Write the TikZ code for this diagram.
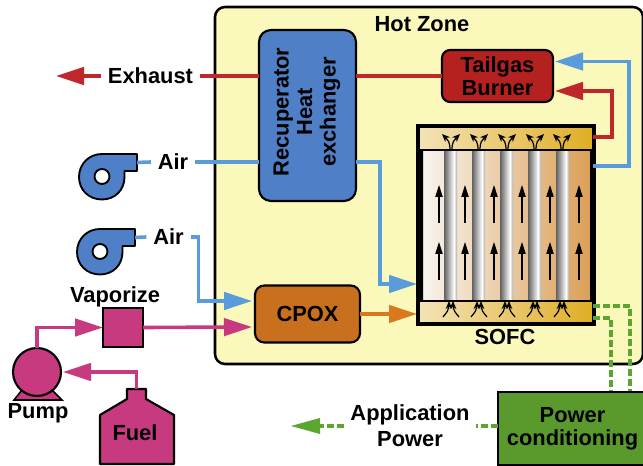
\documentclass[tikz,border=0pt]{standalone}
\usepackage{fontspec}
\setmainfont{Liberation Sans}
\usetikzlibrary{arrows.meta,calc}
\definecolor{zonefill}{HTML}{FBF8BC}
\definecolor{blueflow}{HTML}{5A9BDC}
\definecolor{bluebox}{HTML}{4F7FC6}
\definecolor{redflow}{HTML}{C0272D}
\definecolor{redbox}{HTML}{B5211F}
\definecolor{magflow}{HTML}{C83A80}
\definecolor{cpoxfill}{HTML}{C8701E}
\definecolor{orangeflow}{HTML}{D9791F}
\definecolor{greenflow}{HTML}{5CA52E}
\definecolor{greenbox}{HTML}{5A9A2C}
\definecolor{cellleft}{HTML}{F8F4EE}
\definecolor{cellright}{HTML}{DBA057}
\definecolor{bandleft}{HTML}{F3E2B6}
\definecolor{bandright}{HTML}{E0AE26}
\tikzset{
  x=0.75pt,y=-0.75pt,
  labeltext/.style={font=\fontsize{16.4}{17.5}\selectfont\bfseries,inner xsep=5pt,inner ysep=0pt,align=center,text=black},
  unit/.style={draw=black,line width=1.6pt,inner sep=0pt,outer sep=0pt,font=\fontsize{16.4}{17}\selectfont\bfseries,align=center},
  flow/.style={line width=2.7pt,draw=#1},
  bigtip/.style={-{Triangle[length=21pt,width=13pt,fill=#1]}},
  dashflow/.style={line width=2.7pt,draw=greenflow,dash pattern=on 5pt off 2.5pt},
  smallup/.style={-{Stealth[length=6pt,width=5pt]},line width=0.9pt,draw=black},
  cellup/.style={-{Triangle[length=9pt,width=5.5pt]},line width=0.8pt,draw=black}
}
\begin{document}
\begin{tikzpicture}
\useasboundingbox (0,0) rectangle (643,466);
\fill[white] (0,0) rectangle (643,466);
% hot zone
\draw[black,line width=1.9pt,fill=zonefill,rounded corners=7.5pt] (215,7) rectangle (643,364);
\node[labeltext] (hot) at (422,24) {Hot Zone};
% units
\node[unit,fill=bluebox,rounded corners=9pt,minimum width=97*0.75pt,minimum height=171*0.75pt] (rec) at (307.5,115.5) {};
\node[font=\fontsize{16.4}{17.6}\selectfont\bfseries,align=center,rotate=90,inner sep=0pt] (rectext) at (307,112) {Recuperator\\Heat\\exchanger};
\node[unit,fill=redbox,rounded corners=6pt,minimum width=111*0.75pt,minimum height=52*0.75pt] (tail) at (497.5,76) {Tailgas\\Burner};
\node[unit,fill=cpoxfill,rounded corners=7pt,minimum width=105*0.75pt,minimum height=57*0.75pt] (cpox) at (307.5,314) {CPOX};
\node[unit,fill=magflow,minimum width=40*0.75pt,minimum height=39*0.75pt] (vap) at (123,327.5) {};
\node[labeltext] (vaptext) at (115,297) {Vaporize};
\draw[black,line width=1.2pt,fill=magflow] (22,390) -- (14,400) -- (62,400) -- (52,390) -- cycle;
\node[unit,fill=magflow,circle,minimum size=48*0.75pt] (pump) at (37,372) {};
\node[labeltext] (pumptext) at (38,413) {Pump};
\node[unit,fill=greenbox,minimum width=149*0.75pt,minimum height=73*0.75pt] (pc) at (572.5,428.5) {Power\\conditioning};
% fuel tank
\coordinate (fuelneck) at (136.5,389);
\draw[black,line width=1.6pt,fill=magflow,line join=round] (127,389) -- (146,389) -- (146,399) -- (174,415) -- (174,464) -- (100,464) -- (100,415) -- (127,399) -- cycle;
\node[labeltext] (fueltext) at (135,433) {Fuel};
% blowers
\foreach \dx/\dy/\nm in {0/0/blowa,-2/75/blowb}{
  \begin{scope}[shift={(\dx,\dy)}]
    \draw[black,line width=1.4pt,fill=bluebox,line join=round]
      (137,154) -- (102,154) .. controls (89,154) and (79,164) .. (79,177)
      .. controls (79,190) and (89,199.5) .. (102,199.5)
      .. controls (115,199.5) and (124.5,190) .. (124.5,177) -- (124.5,171) -- (137,171) -- cycle;
    \draw[black,line width=1.4pt,fill=white] (102,176.5) circle[radius=7.5];
    \coordinate (\nm) at (137,162.5);
  \end{scope}
}
% SOFC stack
\node[draw=black,line width=3pt,minimum width=174*0.75pt,minimum height=196*0.75pt,inner sep=0pt,outer sep=0pt] (sofc) at (506,225) {};
\shade[left color=cellleft,right color=cellright] (423,150) rectangle (590,301);
\foreach \a in {444,472,500,528,556}{
  \shade[left color=black!62,right color=white] (\a,150) rectangle ({\a+10},301);
  \shade[left color=white,right color=black!35] ({\a+10},150) rectangle ({\a+13},301);
}
\shade[left color=bandleft,right color=bandright] (420,128) rectangle (592,150);
\shade[left color=bandleft,right color=bandright] (420,301) rectangle (592,322);
\draw[black,line width=0.8pt] (420,150) -- (592,150) (420,301) -- (592,301);
\fill[black] (418,150) rectangle (423,301) (590,150) rectangle (594,301);
\draw[black,line width=2.6pt] (418,126) rectangle (594,324);
\foreach \c in {439,465,494,522,550,579}{
  \draw[cellup] (\c,223) -- (\c,185);
  \draw[cellup] (\c,280) -- (\c,242);
}
\foreach \c in {451,479,507,535,562}{
  \draw[smallup] (\c-1,150) .. controls (\c-1,142) and (\c-3,140) .. (\c-9,134);
  \draw[smallup] (\c+1,150) .. controls (\c+1,142) and (\c+3,140) .. (\c+9,134);
  \draw[smallup] (\c-8,317) .. controls (\c-4,312) and (\c-2,310) .. (\c-2,301);
  \draw[smallup] (\c+8,317) .. controls (\c+4,312) and (\c+2,310) .. (\c+2,301);
}
\node[labeltext] (sofctext) at (505,337) {SOFC};
% labels
\node[labeltext] (exh) at (150.5,76) {Exhaust};
\node[labeltext] (aira) at (173,162) {Air};
\node[labeltext] (airb) at (168.5,237) {Air};
\node[labeltext,font=\fontsize{16.4}{19.5}\selectfont\bfseries] (app) at (410,426) {Application\\Power};
% red flows
\coordinate (exhtip) at (56,76);
\coordinate (sofcout) at ($(sofc.east)+(0,-88)$);
\coordinate (sofcair) at ($(sofc.east)+(0,-59)$);
\coordinate (tailhot) at ($(tail.east)+(2,15)$);
\coordinate (tailair) at ($(tail.east)+(2,-14.5)$);
\draw[flow=redflow,bigtip=redflow] (exh.west) -- (exhtip);
\draw[flow=redflow] (exh.east) -- (rec.west |- exh.east);
\draw[flow=redflow] (rec.east |- tail.west) -- (tail.west);
\draw[flow=redflow,bigtip=redflow] (sofcout) -| (612,91) -- (tailhot);
% blue flows
\draw[flow=blueflow] (blowa) -- (aira.west);
\draw[flow=blueflow] (aira.east) -- (rec.west |- aira.east);
\coordinate (sofcin) at ($(sofc.west)+(-2,59)$);
\draw[flow=blueflow,bigtip=blueflow] (rec.east |- aira.east) -| (380,284) -- (sofcin);
\draw[flow=blueflow,bigtip=blueflow] (sofcair) -| (629,61.5) -- (tailair);
\draw[flow=blueflow] (blowb) -- (airb.west);
\coordinate (cpoxa) at ($(cpox.west)+(-3,-13)$);
\coordinate (cpoxb) at ($(cpox.west)+(-3,13)$);
\draw[flow=blueflow,bigtip=blueflow] (airb.east) -| (198.5,301) -- (cpoxa);
% magenta flows
\draw[flow=magflow,bigtip=magflow] (pump.north) |- (vap.west);
\draw[flow=magflow,bigtip=magflow] (vap.east) -- (cpoxb);
\draw[flow=magflow,bigtip=magflow] (fuelneck) |- ($(pump.east)+(2,0)$);
% orange
\coordinate (sofcfuel) at ($(sofc.west)+(-2,89)$);
\draw[flow=orangeflow,bigtip=orangeflow] (cpox.east) -- (sofcfuel);
% green
\coordinate (sofcpa) at ($(sofc.east)+(0,81)$);
\coordinate (sofcpb) at ($(sofc.east)+(0,93)$);
\coordinate (apptip) at (291,426);
\draw[dashflow] (sofcpa) -| (630,391);
\draw[dashflow] (sofcpb) -| (611,391);
\draw[dashflow] (pc.west |- app.east) -- (app.east);
\draw[dashflow] (app.west) -- (320,426);
\fill[greenflow] (apptip) -- (320,418) -- (320,434) -- cycle;
\end{tikzpicture}
\end{document}
